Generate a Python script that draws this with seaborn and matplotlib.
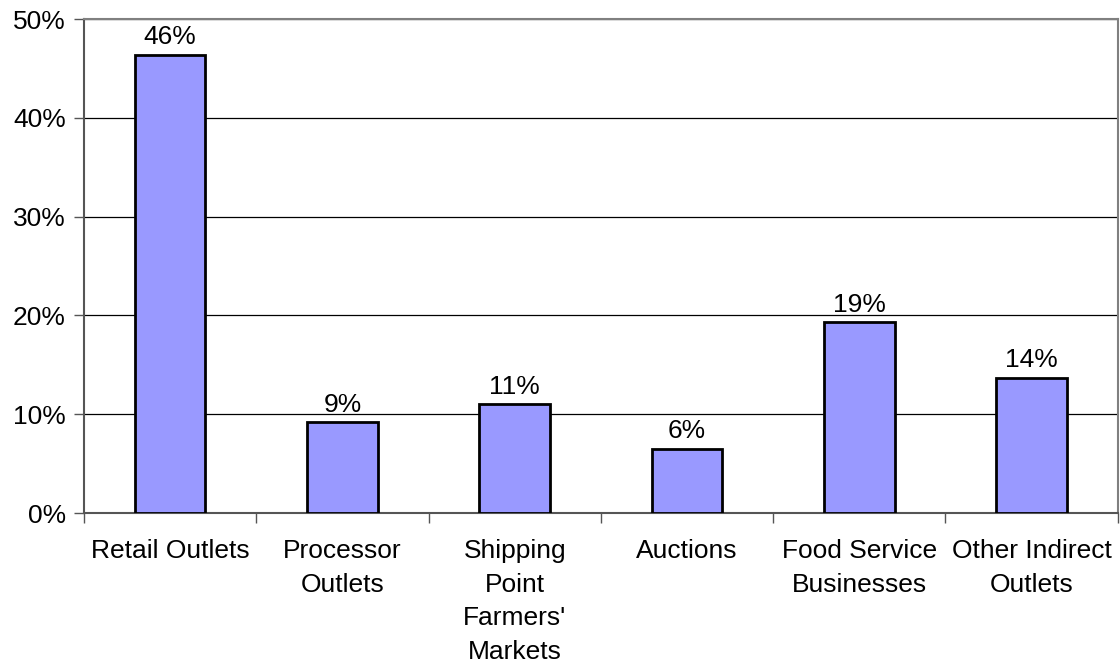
import matplotlib
matplotlib.use("Agg")
import matplotlib.pyplot as plt
import seaborn as sns
import pandas as pd
import numpy as np
from matplotlib.ticker import FixedLocator, PercentFormatter

# Share of sales by outlet type (percent)
categories = ["Retail Outlets", "Processor\nOutlets", "Shipping\nPoint\nFarmers'\nMarkets",
              "Auctions", "Food Service\nBusinesses", "Other Indirect\nOutlets"]
shares = [46.4, 9.2, 11.0, 6.5, 19.3, 13.7]
y_ticks = [0, 10, 20, 30, 40, 50]

sns.set_theme(style="white")
plt.rcParams["font.family"] = ["Liberation Sans", "DejaVu Sans"]

FS = 19

df = pd.DataFrame({"category": categories, "share": shares})

fig = plt.figure(figsize=(11.2, 6.63), dpi=100)
ax = fig.add_axes([0.075, 0.2262, 0.923, 0.7451])

sns.barplot(data=df, x="category", y="share", color="#9999FF", saturation=1,
            width=0.41, edgecolor="black", linewidth=2, ax=ax, zorder=3)

for p, v in zip(ax.patches, shares):
    ax.annotate(f"{v:.0f}%", (p.get_x() + p.get_width() / 2, p.get_height()),
                xytext=(0, 4), textcoords="offset points",
                ha="center", va="bottom", fontsize=FS, color="black")

ax.set_ylim(0, 50)
ax.set_xlim(-0.5, len(categories) - 0.5)
ax.yaxis.set_major_locator(FixedLocator(y_ticks))
ax.yaxis.set_major_formatter(PercentFormatter(decimals=0))
ax.grid(axis="y", color="black", linewidth=0.9, zorder=0)
ax.set_axisbelow(True)

# category boundaries carry the x tick marks
ax.xaxis.set_minor_locator(FixedLocator(np.arange(-0.5, len(categories), 1.0)))
ax.tick_params(axis="x", which="major", length=0, pad=19, labelsize=FS, colors="black")
ax.tick_params(axis="x", which="minor", bottom=True, length=7, width=1, color="#555555", direction="out")
ax.tick_params(axis="y", which="major", left=True, length=7, width=1, color="#555555",
               direction="out", labelsize=FS, labelcolor="black", pad=6)
for lbl in ax.get_xticklabels():
    lbl.set_linespacing(1.5)

for s in ["left", "bottom", "top", "right"]:
    ax.spines[s].set_visible(True)
    ax.spines[s].set_color("#808080")
    ax.spines[s].set_linewidth(1.5)
ax.spines["left"].set_color("#555555")
ax.spines["bottom"].set_color("#555555")

ax.set_xlabel("")
ax.set_ylabel("")

fig.savefig("out.png", dpi=100, facecolor="white")
